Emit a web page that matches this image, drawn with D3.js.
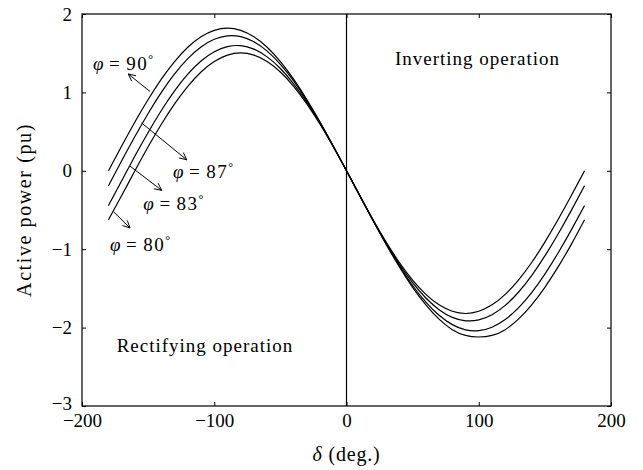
<!DOCTYPE html>
<html>
<head>
<meta charset="utf-8">
<script src="https://cdn.jsdelivr.net/npm/d3@7"></script>
<style>
  html, body { margin: 0; padding: 0; background: #fff; }
  svg text { font-family: "Liberation Serif", "DejaVu Serif", serif; fill: #000; }
</style>
</head>
<body>
<svg id="chart" width="643" height="470"></svg>
<script>
// Load angle δ (degrees), sampled every 10°
const delta = d3.range(-180, 181, 10);

// Active power (pu) for each impedance angle φ
const p90 = [0, 0.316, 0.622, 0.910, 1.170, 1.394, 1.576, 1.710, 1.792, 1.820, 1.792, 1.710, 1.576, 1.394, 1.170, 0.910, 0.622, 0.316, 0,
  -0.316, -0.622, -0.910, -1.170, -1.394, -1.576, -1.710, -1.792, -1.820, -1.792, -1.710, -1.576, -1.394, -1.170, -0.910, -0.622, -0.316, 0];
const p87 = [-0.190, 0.127, 0.437, 0.731, 1.000, 1.236, 1.431, 1.580, 1.678, 1.722, 1.711, 1.645, 1.526, 1.358, 1.146, 0.896, 0.616, 0.314, 0,
  -0.317, -0.627, -0.921, -1.190, -1.426, -1.622, -1.771, -1.869, -1.913, -1.902, -1.836, -1.717, -1.549, -1.336, -1.086, -0.806, -0.505, -0.190];
const p83 = [-0.444, -0.127, 0.188, 0.489, 0.769, 1.019, 1.232, 1.400, 1.519, 1.584, 1.596, 1.552, 1.453, 1.305, 1.109, 0.873, 0.604, 0.310, 0,
  -0.317, -0.631, -0.933, -1.213, -1.463, -1.675, -1.843, -1.962, -2.028, -2.039, -1.995, -1.897, -1.748, -1.553, -1.317, -1.048, -0.754, -0.444];
const p80 = [-0.625, -0.316, 0, 0.306, 0.594, 0.854, 1.078, 1.260, 1.394, 1.476, 1.504, 1.476, 1.394, 1.260, 1.078, 0.854, 0.594, 0.306, 0,
  -0.316, -0.632, -0.938, -1.226, -1.486, -1.710, -1.892, -2.026, -2.100, -2.120, -2.100, -2.026, -1.892, -1.710, -1.486, -1.226, -0.938, -0.625];

const seriesList = [p90, p87, p83, p80];

// Axis ticks
const xTicks = [-200, -100, 0, 100, 200];
const yTicks = [-3, -2, -1, 0, 1, 2];

// Annotation labels: φ value, label anchor [δ, P], arrow tail and head [δ, P]
const phiLabels = ["90", "87", "83", "80"];
const phiLabelPos = [[-191.7, 1.28], [-131.2, -0.09], [-153.6, -0.50], [-178.8, -1.02]];
const arrowTail = [[-148.5, 1.01], [-154.9, 0.61], [-163.7, 0.06], [-176.3, -0.52]];
const arrowHead = [[-165.0, 1.235], [-120.8, 0.14], [-139.7, -0.25], [-163.7, -0.73]];

const regionText = ["Inverting operation", "Rectifying operation"];
const regionPos = [[36.6, 1.35], [-173.8, -2.31]];

const svg = d3.select("#chart");
const plotLeft = 82, plotRight = 611, plotTop = 14, plotBottom = 406;

const x = d3.scaleLinear().domain([-200, 200]).range([plotLeft, plotRight]);
const y = d3.scaleLinear().domain([-3, 2]).range([plotBottom, plotTop]);

const tickFont = 19;
const tickLen = 4;
const fmt = d => d < 0 ? "\u2212" + Math.abs(d) : String(d);

// Bottom axis (ticks pointing inward)
const xAxisB = svg.append("g").attr("transform", `translate(0,${plotBottom})`)
  .call(d3.axisBottom(x).tickValues(xTicks).tickSizeInner(-tickLen).tickSizeOuter(0).tickPadding(8).tickFormat(fmt));
xAxisB.selectAll("text").attr("font-size", tickFont)
  .style("font-family", "'Liberation Serif', serif");
xAxisB.select(".domain").remove();

// Top axis
const xAxisT = svg.append("g").attr("transform", `translate(0,${plotTop})`)
  .call(d3.axisTop(x).tickValues(xTicks).tickSizeInner(-tickLen).tickSizeOuter(0).tickFormat(""));
xAxisT.select(".domain").remove();

// Left axis
const yAxisL = svg.append("g").attr("transform", `translate(${plotLeft},0)`)
  .call(d3.axisLeft(y).tickValues(yTicks).tickSizeInner(-tickLen).tickSizeOuter(0).tickPadding(10).tickFormat(fmt));
yAxisL.selectAll("text").attr("font-size", tickFont)
  .style("font-family", "'Liberation Serif', serif")
  .attr("dy", d => d === -3 ? "0.2em" : "0.32em");
yAxisL.select(".domain").remove();

// Right axis
const yAxisR = svg.append("g").attr("transform", `translate(${plotRight},0)`)
  .call(d3.axisRight(y).tickValues(yTicks).tickSizeInner(-tickLen).tickSizeOuter(0).tickFormat(""));
yAxisR.select(".domain").remove();

svg.selectAll(".tick line").attr("stroke", "#000").attr("stroke-width", 1);

// Plot frame
svg.append("rect")
  .attr("x", plotLeft).attr("y", plotTop)
  .attr("width", plotRight - plotLeft).attr("height", plotBottom - plotTop)
  .attr("fill", "none").attr("stroke", "#000").attr("stroke-width", 1.2);

// Vertical line at δ = 0
svg.append("line")
  .attr("x1", x(0)).attr("x2", x(0)).attr("y1", plotTop).attr("y2", plotBottom)
  .attr("stroke", "#000").attr("stroke-width", 1.2);

// Power-angle curves
const line = d3.line()
  .x((d, i) => x(delta[i]))
  .y(d => y(d))
  .curve(d3.curveNatural);

svg.append("g").selectAll("path")
  .data(seriesList)
  .join("path")
  .attr("d", line)
  .attr("fill", "none")
  .attr("stroke", "#000")
  .attr("stroke-width", 1.2);

// Arrows pointing at each curve
const arrows = svg.append("g").attr("stroke", "#000").attr("stroke-width", 1).attr("fill", "none");
arrowTail.forEach((t, i) => {
  const h = arrowHead[i];
  const x1 = x(t[0]), y1 = y(t[1]), x2 = x(h[0]), y2 = y(h[1]);
  const ang = Math.atan2(y2 - y1, x2 - x1);
  const len = 8, spread = Math.PI / 7;
  arrows.append("line").attr("x1", x1).attr("y1", y1).attr("x2", x2).attr("y2", y2);
  arrows.append("path").attr("d",
    `M${x2 - len * Math.cos(ang - spread)},${y2 - len * Math.sin(ang - spread)}` +
    `L${x2},${y2}` +
    `L${x2 - len * Math.cos(ang + spread)},${y2 - len * Math.sin(ang + spread)}`);
});

// φ labels
phiLabels.forEach((v, i) => {
  const t = svg.append("text")
    .attr("x", x(phiLabelPos[i][0]))
    .attr("y", y(phiLabelPos[i][1]))
    .attr("font-size", 19)
    .attr("letter-spacing", 1.5);
  t.append("tspan").attr("font-style", "italic").text("\u03C6");
  t.append("tspan").attr("dx", 4).text("=");
  t.append("tspan").attr("dx", 5).text(v);
  t.append("tspan").attr("font-size", 12).attr("dy", -7).text("\u00B0");
});

// Operating-region captions
regionText.forEach((s, i) => {
  svg.append("text")
    .attr("x", x(regionPos[i][0]))
    .attr("y", y(regionPos[i][1]))
    .attr("font-size", 19)
    .attr("letter-spacing", 1)
    .text(s);
});

// Axis titles
const xt = svg.append("text")
  .attr("x", x(0)).attr("y", 461)
  .attr("text-anchor", "middle")
  .attr("font-size", 20)
  .attr("letter-spacing", 0.8);
xt.append("tspan").attr("font-style", "italic").text("\u03B4");
xt.append("tspan").text(" (deg.)");

svg.append("text")
  .attr("transform", `translate(31,${(plotTop + plotBottom) / 2}) rotate(-90)`)
  .attr("text-anchor", "middle")
  .attr("font-size", 20)
  .attr("letter-spacing", 1.6)
  .text("Active power (pu)");
</script>
</body>
</html>
